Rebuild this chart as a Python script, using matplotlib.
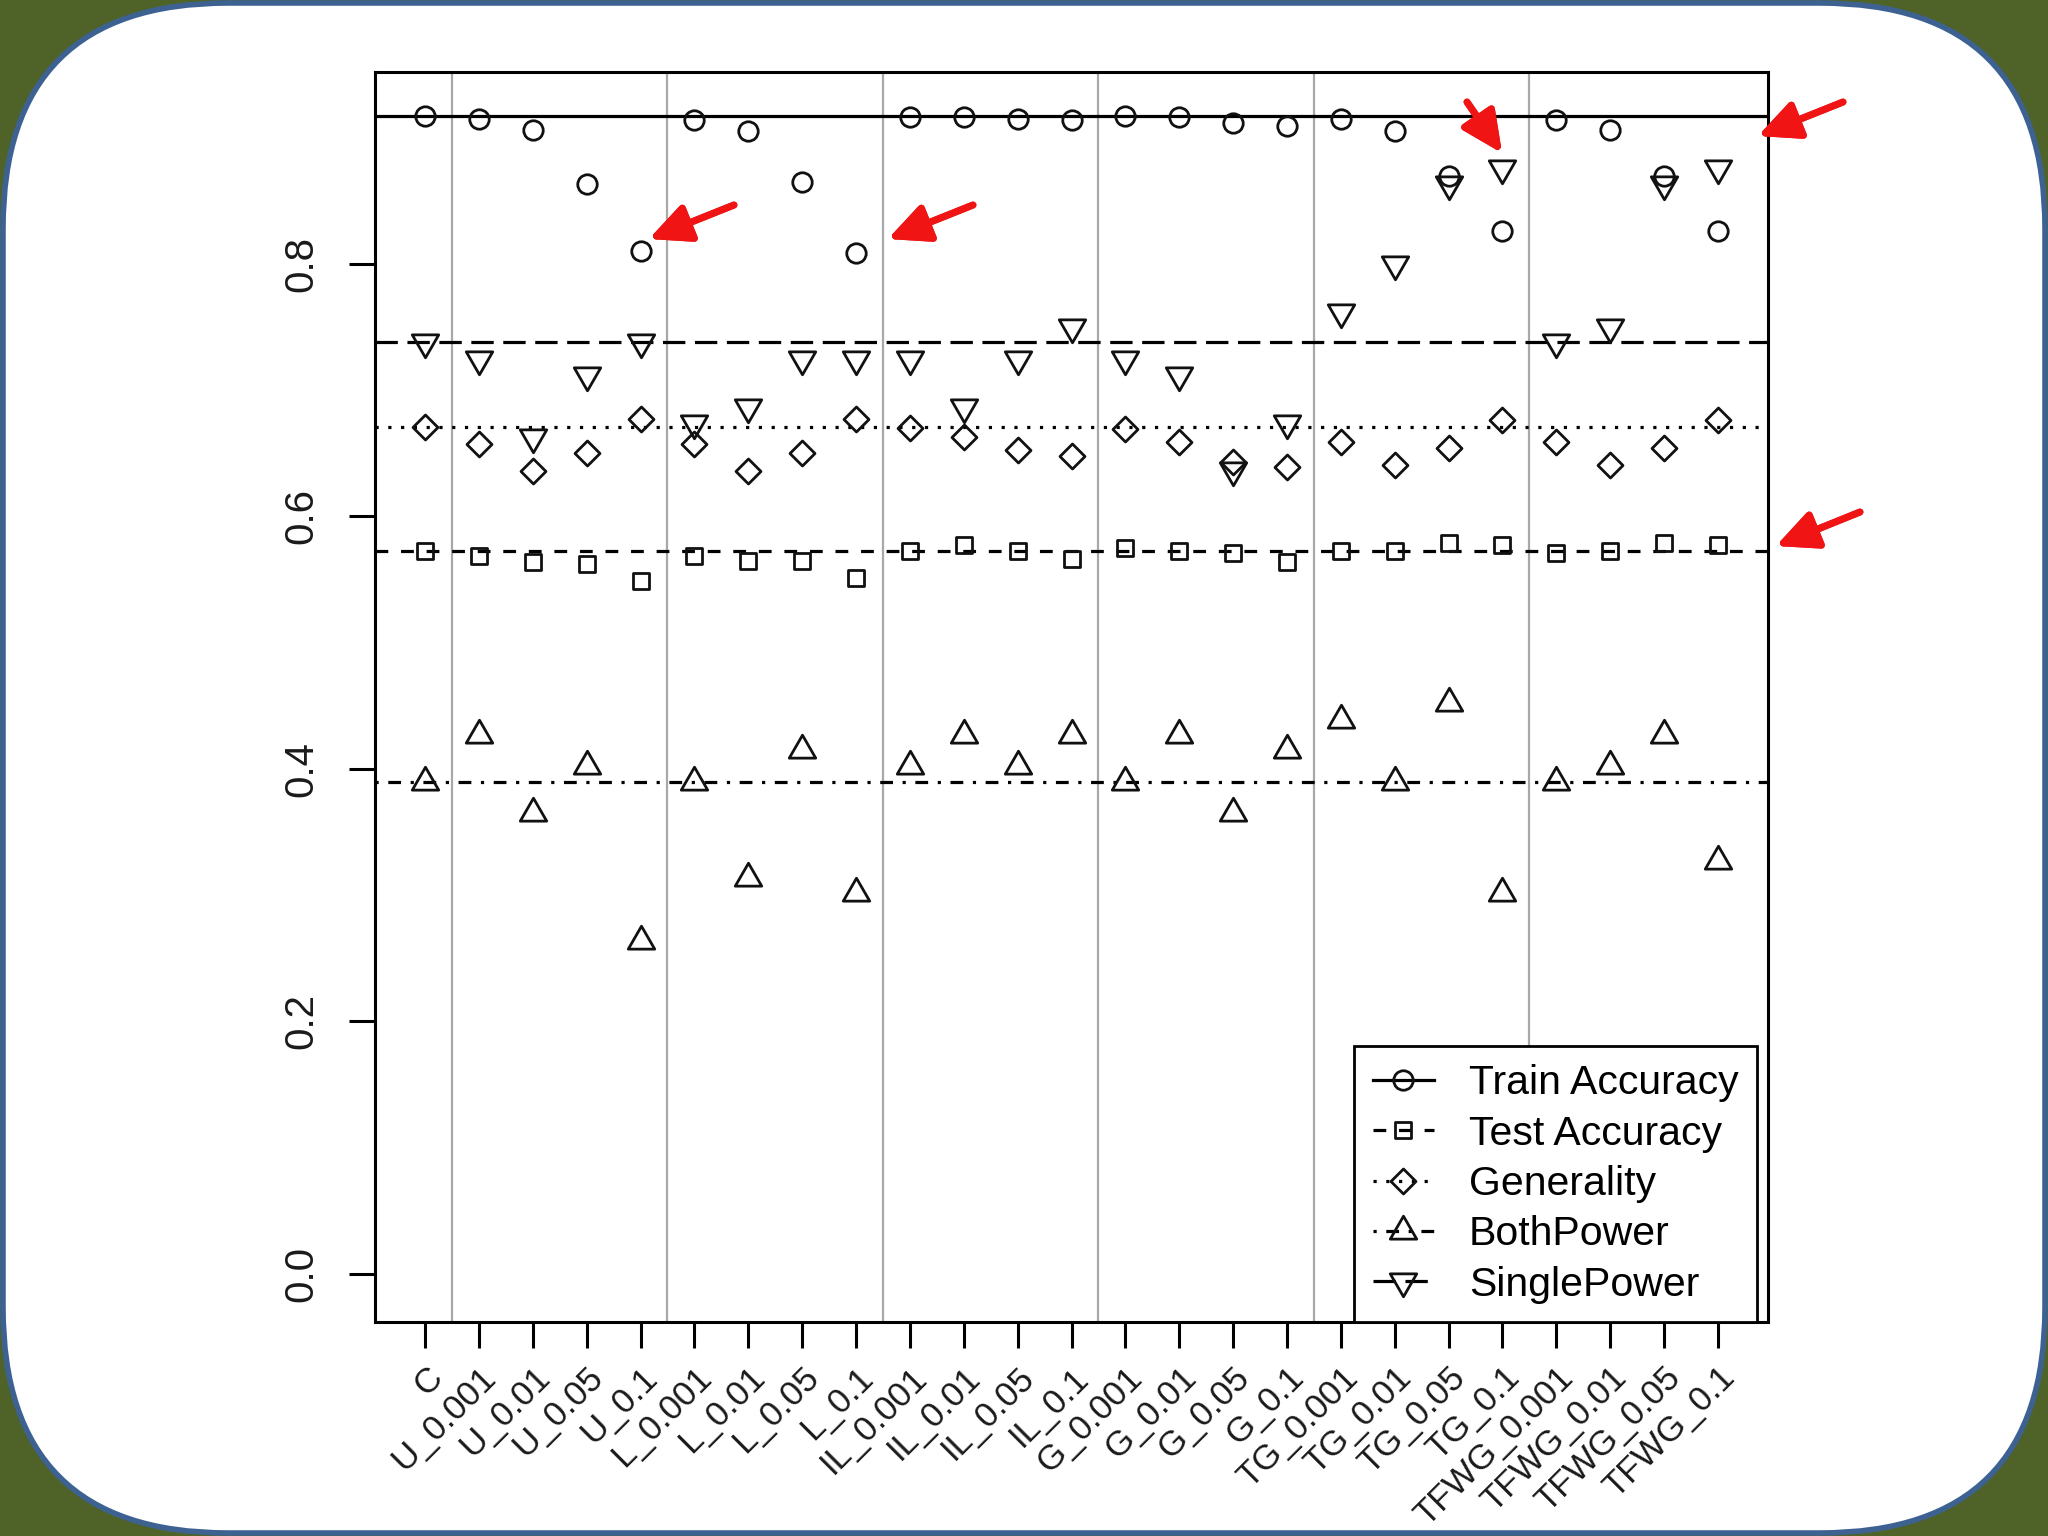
import numpy as np
import matplotlib
matplotlib.use("Agg")
import matplotlib.pyplot as plt
from matplotlib.lines import Line2D
from matplotlib.path import Path
from matplotlib.patches import FancyBboxPatch

plt.rcParams["font.family"] = ["Liberation Sans", "DejaVu Sans"]

# categories (x axis)
methods = ["C",
           "U_0.001", "U_0.01", "U_0.05", "U_0.1",
           "L_0.001", "L_0.01", "L_0.05", "L_0.1",
           "IL_0.001", "IL_0.01", "IL_0.05", "IL_0.1",
           "G_0.001", "G_0.01", "G_0.05", "G_0.1",
           "TG_0.001", "TG_0.01", "TG_0.05", "TG_0.1",
           "TFWG_0.001", "TFWG_0.01", "TFWG_0.05", "TFWG_0.1"]

# series values
train_acc = [0.917, 0.915, 0.906, 0.863, 0.810,
             0.914, 0.905, 0.865, 0.809,
             0.916, 0.916, 0.915, 0.914,
             0.917, 0.916, 0.912, 0.909,
             0.915, 0.905, 0.870, 0.826,
             0.914, 0.906, 0.870, 0.826]
test_acc = [0.573, 0.569, 0.564, 0.562, 0.549,
            0.569, 0.565, 0.565, 0.551,
            0.573, 0.577, 0.573, 0.566,
            0.575, 0.573, 0.571, 0.564,
            0.573, 0.573, 0.579, 0.577,
            0.571, 0.573, 0.579, 0.577]
generality = [0.671, 0.657, 0.636, 0.650, 0.677,
              0.657, 0.636, 0.650, 0.677,
              0.670, 0.663, 0.653, 0.648,
              0.669, 0.659, 0.643, 0.639,
              0.659, 0.641, 0.654, 0.676,
              0.659, 0.641, 0.654, 0.676]
both_power = [0.390, 0.427, 0.365, 0.402, 0.264,
              0.390, 0.314, 0.415, 0.302,
              0.402, 0.427, 0.402, 0.427,
              0.390, 0.427, 0.365, 0.415,
              0.439, 0.390, 0.452, 0.302,
              0.390, 0.402, 0.427, 0.327]
single_power = [0.738, 0.725, 0.663, 0.712, 0.738,
                0.674, 0.687, 0.725, 0.725,
                0.725, 0.687, 0.725, 0.750,
                0.725, 0.712, 0.637, 0.674,
                0.762, 0.800, 0.863, 0.876,
                0.738, 0.750, 0.863, 0.876]

y_ticks = [0.0, 0.2, 0.4, 0.6, 0.8]

# red arrows drawn on top of the chart (tail, head) in image pixels from top-left
arrows = [((734, 205), (649, 239)),
          ((973, 205), (888, 239)),
          ((1467, 102), (1502, 153)),
          ((1843, 102), (1758, 136)),
          ((1860, 512), (1776, 546))]


def poly_marker(pts):
    pts = np.array(pts, float)
    return Path(np.vstack([pts, pts[:1]]), closed=True)


SQUARE = poly_marker([(-1, -1), (1, -1), (1, 1), (-1, 1)])
DIAMOND = poly_marker([(0, 1), (1, 0), (0, -1), (-1, 0)])
TRI_UP = poly_marker([(0, 1), (0.866, -0.5), (-0.866, -0.5)])
TRI_DOWN = poly_marker([(0, -1), (0.866, 0.5), (-0.866, 0.5)])

LW = 2.3
series = [
    ("Train Accuracy", train_acc, "o", 14, "-"),
    ("Test Accuracy", test_acc, SQUARE, 12, (0, (4, 4))),
    ("Generality", generality, DIAMOND, 18, (0, (1, 3))),
    ("BothPower", both_power, TRI_UP, 22, (0, (1, 3, 4, 3))),
    ("SinglePower", single_power, TRI_DOWN, 22, (0, (7, 3))),
]

W, H = 2048, 1536
fig = plt.figure(figsize=(W / 100, H / 100), dpi=100, facecolor="#4f6228")

# rounded white card behind the chart
bg = fig.add_axes([0, 0, 1, 1], zorder=-1)
bg.set_xlim(0, W)
bg.set_ylim(0, H)
bg.axis("off")
bg.add_patch(FancyBboxPatch((3, 3), W - 6, H - 6,
                            boxstyle="round,pad=0,rounding_size=225",
                            fc="white", ec="#3d6292", lw=4))

ax = fig.add_axes([375 / W, 1 - 1322 / H, 1393 / W, 1250 / H])
ax.set_facecolor("white")
x = np.arange(1, len(methods) + 1)

# group separators where the method prefix changes
groups = [m.split("_")[0] for m in methods]
for i in range(1, len(groups)):
    if groups[i] != groups[i - 1]:
        ax.axvline(x[i] - 0.5, color="#a8a8a8", lw=1.6, zorder=1)

handles = []
for label, vals, mk, ms, ls in series:
    ax.axhline(vals[0], color="black", lw=LW, ls=ls, zorder=2)
    ax.plot(x, vals, ls="none", marker=mk, ms=ms, mfc="none", mec="#111111",
            mew=2.0, zorder=3)
    handles.append(Line2D([], [], color="black", lw=LW, ls=ls, marker=mk,
                          ms=ms, mfc="none", mec="#111111", mew=2.0, label=label))

ax.set_xlim(0.07, 25.93)
ax.set_ylim(-0.038, 0.952)
ax.set_yticks(y_ticks, [f"{v:.1f}" for v in y_ticks], rotation=90, va="center")
ax.set_xticks(x, methods, rotation=45, ha="right", va="top",
              rotation_mode="anchor")
ax.tick_params(axis="both", direction="out", length=19, width=2.2,
               colors="black", labelcolor="#1a1a1a")
ax.tick_params(axis="y", labelsize=29, pad=20)
ax.tick_params(axis="x", labelsize=25, pad=9)
for sp in ax.spines.values():
    sp.set_linewidth(2.2)
    sp.set_color("black")

leg = ax.legend(handles=handles, loc="lower right", bbox_to_anchor=(0.992, 0.0),
                prop={"size": 29.5}, frameon=True, fancybox=False, framealpha=1,
                edgecolor="black", handlelength=1.5, handletextpad=0.85,
                labelspacing=0.3, borderpad=0.45, borderaxespad=0,
                numpoints=1)
leg.get_frame().set_linewidth(2.0)
leg.set_zorder(5)

for (tx, ty), (hx, hy) in arrows:
    fig.add_artist(plt.annotate(
        "", xy=(hx, H - hy), xytext=(tx, H - ty),
        xycoords="figure pixels", textcoords="figure pixels",
        arrowprops=dict(arrowstyle="-|>,head_length=0.95,head_width=0.45",
                        color="#f01414", lw=5, mutation_scale=26,
                        shrinkA=0, shrinkB=0)))

fig.savefig("out.png", dpi=100, facecolor=fig.get_facecolor())
